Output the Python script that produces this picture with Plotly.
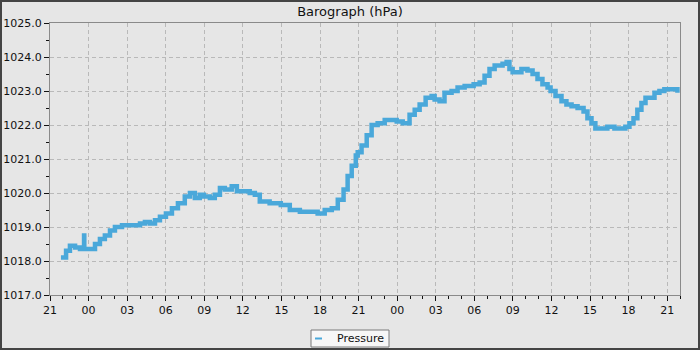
import plotly.graph_objects as go

times = [
    "2024-03-01 21:51", "2024-03-01 22:15", "2024-03-01 22:33", "2024-03-01 22:57",
    "2024-03-01 23:20", "2024-03-01 23:38", "2024-03-01 23:39", "2024-03-01 23:40",
    "2024-03-02 00:02", "2024-03-02 00:30", "2024-03-02 00:53", "2024-03-02 01:16",
    "2024-03-02 01:40", "2024-03-02 02:03", "2024-03-02 02:36", "2024-03-02 02:59",
    "2024-03-02 03:27", "2024-03-02 04:00", "2024-03-02 04:23", "2024-03-02 04:46",
    "2024-03-02 05:10", "2024-03-02 05:33", "2024-03-02 06:01", "2024-03-02 06:29",
    "2024-03-02 06:57", "2024-03-02 07:29", "2024-03-02 07:53", "2024-03-02 08:16",
    "2024-03-02 08:39", "2024-03-02 08:58", "2024-03-02 09:26", "2024-03-02 09:49",
    "2024-03-02 10:13", "2024-03-02 10:36", "2024-03-02 11:08", "2024-03-02 11:32",
    "2024-03-02 12:00", "2024-03-02 12:32", "2024-03-02 12:56", "2024-03-02 13:19",
    "2024-03-02 14:05", "2024-03-02 14:43", "2024-03-02 14:57", "2024-03-02 15:39",
    "2024-03-02 16:26", "2024-03-02 17:12", "2024-03-02 17:49", "2024-03-02 18:22",
    "2024-03-02 18:55", "2024-03-02 19:23", "2024-03-02 19:50", "2024-03-02 20:09",
    "2024-03-02 20:28", "2024-03-02 20:47", "2024-03-02 20:56", "2024-03-02 21:14",
    "2024-03-02 21:38", "2024-03-02 22:01", "2024-03-02 22:29", "2024-03-02 23:02",
    "2024-03-02 23:34", "2024-03-02 23:58", "2024-03-03 00:26", "2024-03-03 00:58",
    "2024-03-03 01:22", "2024-03-03 01:45", "2024-03-03 02:13", "2024-03-03 02:41",
    "2024-03-03 02:55", "2024-03-03 03:18", "2024-03-03 03:41", "2024-03-03 04:14",
    "2024-03-03 04:42", "2024-03-03 05:15", "2024-03-03 05:38", "2024-03-03 05:57",
    "2024-03-03 06:25", "2024-03-03 06:48", "2024-03-03 07:11", "2024-03-03 07:35",
    "2024-03-03 08:12", "2024-03-03 08:31", "2024-03-03 08:44", "2024-03-03 08:59",
    "2024-03-03 09:22", "2024-03-03 09:40", "2024-03-03 10:08", "2024-03-03 10:32",
    "2024-03-03 10:55", "2024-03-03 11:18", "2024-03-03 11:42", "2024-03-03 11:56",
    "2024-03-03 12:19", "2024-03-03 12:47", "2024-03-03 13:10", "2024-03-03 13:34",
    "2024-03-03 14:02", "2024-03-03 14:30", "2024-03-03 14:48", "2024-03-03 15:07",
    "2024-03-03 15:25", "2024-03-03 15:53", "2024-03-03 16:21", "2024-03-03 16:54",
    "2024-03-03 17:17", "2024-03-03 17:45", "2024-03-03 18:04", "2024-03-03 18:23",
    "2024-03-03 18:41", "2024-03-03 19:00", "2024-03-03 19:19", "2024-03-03 19:37",
    "2024-03-03 20:01", "2024-03-03 20:24", "2024-03-03 20:47", "2024-03-03 21:10",
    "2024-03-03 21:34", "2024-03-03 21:48",
]
pressure = [
    1018.1, 1018.3, 1018.45, 1018.4,
    1018.35, 1018.35, 1018.75, 1018.35,
    1018.35, 1018.5, 1018.65, 1018.75,
    1018.9, 1019.0, 1019.05, 1019.05,
    1019.05, 1019.1, 1019.15, 1019.1,
    1019.2, 1019.3, 1019.4, 1019.55,
    1019.7, 1019.9, 1020.0, 1019.85,
    1019.95, 1019.9, 1019.85, 1019.95,
    1020.15, 1020.1, 1020.2, 1020.05,
    1020.05, 1020.0, 1019.95, 1019.75,
    1019.7, 1019.7, 1019.65, 1019.5,
    1019.45, 1019.45, 1019.4, 1019.5,
    1019.55, 1019.8, 1020.1, 1020.5,
    1020.8, 1021.1, 1021.2, 1021.4,
    1021.7, 1022.0, 1022.05, 1022.15,
    1022.15, 1022.1, 1022.05, 1022.3,
    1022.45, 1022.6, 1022.8, 1022.85,
    1022.75, 1022.7, 1022.95, 1023.0,
    1023.1, 1023.15, 1023.15, 1023.2,
    1023.25, 1023.45, 1023.65, 1023.75,
    1023.8, 1023.85, 1023.65, 1023.55,
    1023.55, 1023.65, 1023.6, 1023.5,
    1023.35, 1023.2, 1023.1, 1023.0,
    1022.85, 1022.7, 1022.6, 1022.55,
    1022.5, 1022.4, 1022.2, 1022.05,
    1021.9, 1021.9, 1021.95, 1021.9,
    1021.9, 1021.95, 1022.05, 1022.2,
    1022.45, 1022.65, 1022.8, 1022.8,
    1022.95, 1023.0, 1023.05, 1023.05,
    1023.05, 1022.95,
]

x_range = ["2024-03-01 21:00", "2024-03-03 22:00"]
y_range = [1017.0, 1025.0]
title_text = "Barograph (hPa)"
series_name = "Pressure"
line_color = "#4aa8da"

fig = go.Figure()
fig.add_trace(go.Scatter(
    x=times, y=pressure, mode="lines", name=series_name, showlegend=False,
    line=dict(color=line_color, width=4.5, shape="hv"),
))

W, H = 700, 350
ml, mr, mt, mb = 50, 20, 23, 55
pw, ph = W - ml - mr, H - mt - mb


def px(xp):
    return (xp - ml) / pw


def py(yp):
    return (mt + ph - yp) / ph


grid = dict(showgrid=True, gridcolor="#b9b9b9", griddash="4px,3px", gridwidth=1)

fig.update_layout(
    width=W, height=H,
    margin=dict(l=ml, r=mr, t=mt, b=mb, autoexpand=False),
    paper_bgcolor="#e6e6e6", plot_bgcolor="#e6e6e6",
    font=dict(family="DejaVu Sans", size=11, color="#111"),
    title=dict(text=title_text, x=0.5, xref="container", y=1 - 11 / H,
               yanchor="middle", font=dict(size=13, color="#111")),
    showlegend=False,
    xaxis=dict(
        type="date", range=x_range, tickformat="%H", dtick=3 * 3600000,
        tick0="2024-03-01 21:00", automargin=False, **grid,
        showline=True, linecolor="#8a8a8a", linewidth=1, mirror=True,
        ticks="outside", ticklen=5, tickcolor="#111",
        minor=dict(dtick=3600000, ticks="outside", ticklen=3, tickcolor="#111",
                   showgrid=False),
        zeroline=False,
    ),
    yaxis=dict(
        range=y_range, dtick=1.0, tickformat=".1f", automargin=False, **grid,
        showline=True, linecolor="#8a8a8a", linewidth=1, mirror=True,
        ticks="outside", ticklen=5, tickcolor="#111",
        minor=dict(dtick=0.5, ticks="outside", ticklen=3, tickcolor="#111",
                   showgrid=False),
        zeroline=False,
    ),
)

# outer frame around the whole picture
fig.add_shape(
    type="rect", xref="paper", yref="paper",
    x0=px(1), x1=px(W - 1), y0=py(H - 1), y1=py(1),
    line=dict(color="#444444", width=2), fillcolor="rgba(0,0,0,0)",
    layer="above",
)

# legend box
fig.add_shape(
    type="rect", xref="paper", yref="paper",
    x0=px(311), x1=px(389), y0=py(347), y1=py(330),
    line=dict(color="#7a7a7a", width=1), fillcolor="#f7f7f7", layer="above",
)
fig.add_shape(
    type="rect", xref="paper", yref="paper",
    x0=px(315), x1=px(322), y0=py(339.5), y1=py(337.5),
    line=dict(width=0), fillcolor=line_color, layer="above",
)
fig.add_annotation(
    xref="paper", yref="paper", x=px(335), y=py(338.5), text=series_name,
    showarrow=False, xanchor="left", yanchor="middle",
    font=dict(family="DejaVu Sans", size=11, color="#111"),
)

fig.write_html("out.html")
